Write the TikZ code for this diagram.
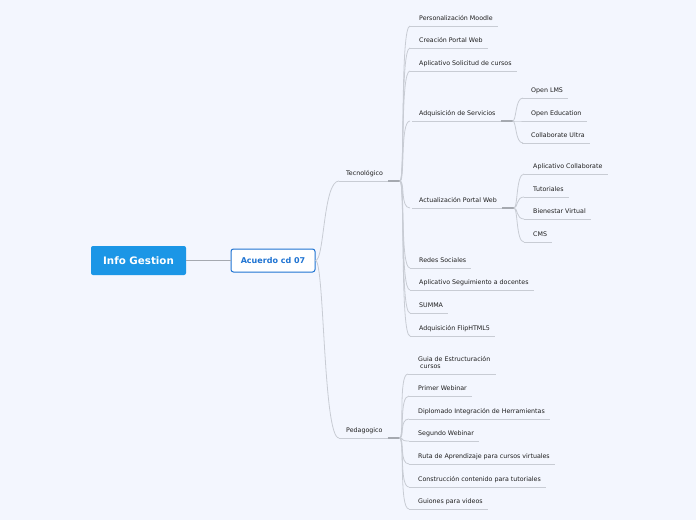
\documentclass[tikz,border=0pt]{standalone}
\usepackage{fontspec}
\setmainfont{DejaVu Sans}
\definecolor{bg}{RGB}{243,246,254}
\definecolor{rootblue}{RGB}{27,150,230}
\definecolor{midblue}{RGB}{30,115,210}
\definecolor{linegray}{RGB}{200,204,212}
\definecolor{darkgray}{RGB}{165,169,176}
\definecolor{txt}{RGB}{30,30,30}
\newcommand\leafnode[4]{%
  \node[leaf] (#1) at (#2,#3) {#4};
  \path (#1.south west) ++(-9,5) coordinate (#1-s);
  \path (#1.south east) ++(5,5) coordinate (#1-e);
  \draw[uline] (#1-s) -- (#1-e);}
\newcommand\parentnode[4]{%
  \node[leaf] (#1) at (#2,#3) {#4};
  \path (#1.south west) ++(-7,5) coordinate (#1-s);
  \path (#1.south east) ++(5,5) coordinate (#1-m);
  \path (#1.south east) ++(17,5) coordinate (#1-e);
  \draw[uline] (#1-s) -- (#1-m);
  \draw[thickseg] (#1-m) -- (#1-e);}
\begin{document}
\begin{tikzpicture}[x=1pt,y=-1pt,
  leaf/.style={anchor=south west,inner sep=0pt,font=\fontsize{6.3}{7}\selectfont,text=txt,text depth=0pt},
  uline/.style={draw=linegray,line width=0.8pt},
  thickseg/.style={draw=darkgray,line width=1.3pt},
  conn/.style={draw=linegray,line width=0.8pt},
  rootbox/.style={fill=rootblue,rounded corners=2pt,text=white,font=\fontsize{10.3}{12}\selectfont\bfseries,minimum width=95pt,minimum height=29pt,inner sep=0pt},
  midbox/.style={fill=white,draw=midblue,line width=1pt,rounded corners=2.5pt,text=midblue,font=\fontsize{8}{10}\selectfont\bfseries,minimum width=84pt,minimum height=23pt,inner sep=0pt}]
\fill[bg] (0,0) rectangle (696,520);
\useasboundingbox (0,0) rectangle (696,520);

\node[rootbox] (root) at (138.5,260.5) {Info Gestion};
\node[midbox] (acu) at (273,260.5) {Acuerdo cd 07};
\draw[draw=darkgray,line width=1.2pt] (root.east) -- (acu.west);

% level 1
\parentnode{tec}{346}{176}{Tecnológico}
\parentnode{ped}{346}{433}{Pedagogico}
\draw[conn] (acu.east) .. controls +(9,0) and +(-16,0) .. (tec-s);
\draw[conn] (acu.east) .. controls +(9,0) and +(-16,0) .. (ped-s);

% Tecnologico children
\leafnode{t1}{419}{21}{Personalización Moodle}
\leafnode{t2}{419}{43}{Creación Portal Web}
\leafnode{t3}{419}{66}{Aplicativo Solicitud de cursos}
\parentnode{t4}{419}{116}{Adquisición de Servicios}
\parentnode{t5}{419}{203}{Actualización Portal Web}
\leafnode{t6}{419}{263}{Redes Sociales}
\leafnode{t7}{419}{285}{Aplicativo Seguimiento a docentes}
\leafnode{t8}{419}{308}{SUMMA}
\leafnode{t9}{419}{331}{Adquisición FlipHTML5}
\foreach \n in {t1,t2,t3,t6,t7,t8,t9}
  \draw[conn] (tec-e) .. controls +(5,0) and +(-10,0) .. (\n-s);
\path (t4.south west) ++(-9,5) coordinate (t4-ss);
\path (t5.south west) ++(-9,5) coordinate (t5-ss);
\draw[conn] (tec-e) .. controls +(5,0) and +(-10,0) .. (t4-ss);
\draw[conn] (tec-e) .. controls +(5,0) and +(-10,0) .. (t5-ss);

% Adquisicion de Servicios children
\leafnode{a1}{531}{93}{Open LMS}
\leafnode{a2}{531}{116}{Open Education}
\leafnode{a3}{531}{138}{Collaborate Ultra}
\foreach \n in {a1,a2,a3}
  \draw[conn] (t4-e) .. controls +(4,0) and +(-8,0) .. ([xshift=1pt]\n-s);

% Actualizacion Portal Web children
\leafnode{b1}{533}{169}{Aplicativo Collaborate}
\leafnode{b2}{533}{192}{Tutoriales}
\leafnode{b3}{533}{214}{Bienestar Virtual}
\leafnode{b4}{533}{237}{CMS}
\foreach \n in {b1,b2,b3,b4}
  \draw[conn] (t5-e) .. controls +(4,0) and +(-8,0) .. (\n-s);

% Pedagogico children
\node[leaf,align=left] (p1) at (418,369) {Guia de Estructuración\\\hspace*{2pt}cursos};
\path (p1.south west) ++(-10,5) coordinate (p1-s);
\path (p1.south east) ++(5,5) coordinate (p1-e);
\draw[uline] (p1-s) -- (p1-e);
\leafnode{p2}{418}{391}{Primer Webinar}
\leafnode{p3}{418}{414}{Diplomado Integración de Herramientas}
\leafnode{p4}{418}{436}{Segundo Webinar}
\leafnode{p5}{418}{459}{Ruta de Aprendizaje para cursos virtuales}
\leafnode{p6}{418}{482}{Construcción contenido para tutoriales}
\leafnode{p7}{418}{504}{Guiones para videos}
\foreach \n in {p1,p2,p3,p4,p5,p6,p7}
  \draw[conn] (ped-e) .. controls +(5,0) and +(-10,0) .. (\n-s);
\end{tikzpicture}
\end{document}
